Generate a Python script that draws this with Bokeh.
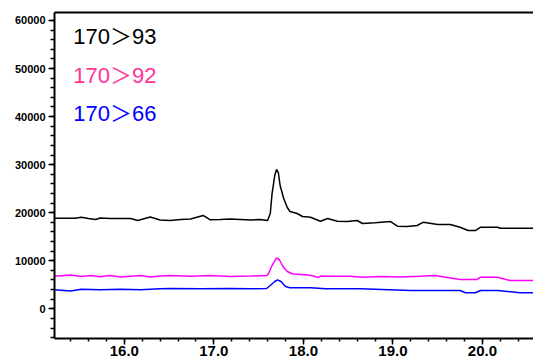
from bokeh.plotting import figure
from bokeh.models import (LinearAxis, SingleIntervalTicker, PrintfTickFormatter,
                          BasicTickFormatter, Range1d, Label)
from bokeh.embed import file_html
from bokeh.resources import INLINE

# ---- data (retention time in min, intensity) ----
t_93 = [15.22, 15.45, 15.52, 15.60, 15.68, 15.73, 15.84, 15.96, 16.07, 16.15,
        16.29, 16.40, 16.51, 16.63, 16.74, 16.88, 16.96, 17.07, 17.18, 17.30,
        17.41, 17.52, 17.60, 17.63, 17.65, 17.68, 17.70, 17.72, 17.74, 17.78,
        17.82, 17.85, 17.93, 17.99, 18.08, 18.19, 18.27, 18.38, 18.49, 18.60,
        18.66, 18.80, 18.97, 19.05, 19.16, 19.27, 19.34, 19.50, 19.64, 19.75,
        19.84, 19.92, 19.98, 20.17, 20.20, 20.57]
v_93 = [18850, 18850, 19060, 18790, 18580, 18900, 18790, 18790, 18790, 18370,
        19100, 18480, 18370, 18580, 18690, 19420, 18520, 18580, 18690, 18580,
        18480, 18580, 18370, 19830, 23990, 27740, 28990, 28360, 25660, 22950,
        21080, 20250, 19830, 19210, 19060, 18230, 18790, 18230, 18170, 18370,
        17750, 17900, 18170, 17190, 17130, 17330, 18020, 17540, 17540, 16980,
        16290, 16290, 16980, 16980, 16770, 16770]

t_92 = [15.22, 15.40, 15.52, 15.63, 15.73, 15.84, 15.96, 16.07, 16.18, 16.29,
        16.40, 16.51, 16.74, 16.96, 17.18, 17.41, 17.59, 17.61, 17.65, 17.70,
        17.73, 17.78, 17.82, 17.88, 17.97, 18.08, 18.17, 18.19, 18.30, 18.52,
        18.66, 18.86, 19.08, 19.30, 19.47, 19.75, 19.94, 19.98, 20.17, 20.31,
        20.57]
v_92 = [6780, 7030, 6720, 6930, 6660, 6930, 6620, 6780, 6930, 6620,
        6830, 6930, 6780, 6930, 6720, 6830, 6930, 7350, 9010, 10610,
        10260, 8590, 7760, 7240, 7140, 7000, 6510, 6830, 6780, 6780,
        6580, 6720, 6620, 6780, 6930, 6100, 6100, 6580, 6580, 5890,
        5890]

t_66 = [15.22, 15.40, 15.52, 15.73, 15.96, 16.18, 16.40, 16.51, 16.85, 17.18,
        17.41, 17.59, 17.63, 17.68, 17.71, 17.75, 17.80, 17.85, 18.08, 18.25,
        18.64, 19.20, 19.75, 19.81, 19.92, 19.98, 20.17, 20.42, 20.57]
v_66 = [3950, 3700, 4060, 3950, 4060, 3950, 4160, 4220, 4160, 4220,
        4160, 4220, 4850, 5680, 6030, 5680, 4640, 4370, 4370, 4160,
        4160, 3810, 3810, 3330, 3330, 3810, 3810, 3330, 3330]

series_names = ["170\uff1e93", "170\uff1e92", "170\uff1e66"]
line_colors = ["#000000", "#ff00ff", "#0000ff"]
text_colors = ["#000000", "#ff3399", "#0000ff"]

x_ticks_interval = 1.0
y_ticks_interval = 10000

p = figure(width=533, height=363, output_backend="svg", toolbar_location=None,
           x_range=Range1d(15.22, 20.57), y_range=Range1d(-6180, 61660),
           min_border_left=54, min_border_right=0, min_border_top=12,
           min_border_bottom=25)
p.xaxis.visible = False
p.yaxis.visible = False
p.xgrid.visible = False
p.ygrid.visible = False
p.outline_line_color = None
p.background_fill_color = "white"
p.border_fill_color = "white"

xa = LinearAxis(ticker=SingleIntervalTicker(interval=x_ticks_interval, num_minor_ticks=5),
                formatter=PrintfTickFormatter(format="%.1f"))
xa.axis_line_width = 2
xa.major_tick_line_width = 1.5
xa.minor_tick_line_width = 1.5
xa.major_tick_in = 0
xa.major_tick_out = 6
xa.minor_tick_in = 0
xa.minor_tick_out = 3
xa.major_label_standoff = 1
xa.major_label_text_font = "Liberation Sans"
xa.major_label_text_font_style = "bold"
xa.major_label_text_font_size = "15px"
xa.major_label_text_color = "#000000"
p.add_layout(xa, "below")

ya = LinearAxis(ticker=SingleIntervalTicker(interval=y_ticks_interval, num_minor_ticks=5),
                formatter=BasicTickFormatter(use_scientific=False))
ya.axis_line_width = 2
ya.major_tick_line_width = 1.5
ya.minor_tick_line_width = 1.5
ya.major_tick_in = 0
ya.major_tick_out = 6
ya.minor_tick_in = 0
ya.minor_tick_out = 4
ya.major_label_standoff = 3
ya.major_label_text_font = "Liberation Sans"
ya.major_label_text_font_style = "bold"
ya.major_label_text_font_size = "11px"
ya.major_label_text_color = "#000000"
p.add_layout(ya, "left")

top = LinearAxis(major_tick_in=0, major_tick_out=0, minor_tick_in=0, minor_tick_out=0,
                 major_label_text_font_size="0px", major_label_standoff=0)
top.axis_line_width = 2
top.major_label_text_alpha = 0
p.add_layout(top, "above")

for t, v, c in zip([t_93, t_92, t_66], [v_93, v_92, v_66], line_colors):
    p.line(t, v, line_color=c, line_width=1.5)

label_y = [56670, 48530, 40620]
for name, c, yy in zip(series_names, text_colors, label_y):
    p.add_layout(Label(x=15.43, y=yy, text=name, text_color=c,
                       text_font="Liberation Sans, 'Noto Sans CJK JP'",
                       text_font_size="22px", text_baseline="middle"))

open("out.html", "w").write(file_html(p, INLINE))
